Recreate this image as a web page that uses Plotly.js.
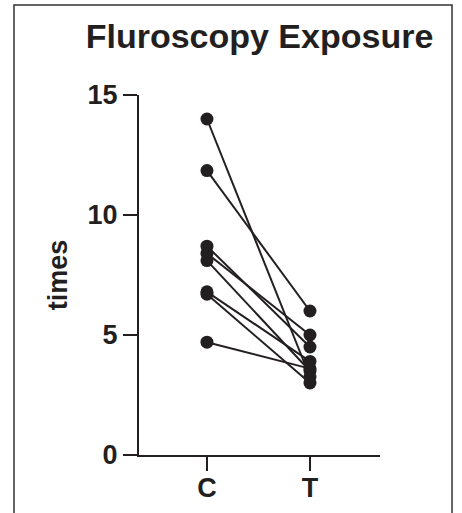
<!DOCTYPE html>
<html>
<head>
<meta charset="utf-8">
<script src="https://cdn.plot.ly/plotly-3.0.1.min.js"></script>
<style>
  html, body { margin: 0; padding: 0; background: #fff; }
  #chart { width: 462px; height: 513px; }
</style>
</head>
<body>
<div id="chart"></div>
<script>
const groups = ['C', 'T'];
const controlValues = [14.0, 11.85, 8.7, 8.4, 8.1, 6.8, 6.7, 4.7];
const treatedValues = [3.25, 6.0, 4.5, 5.0, 3.5, 3.9, 3.0, 3.6];
const yTickValues = [0, 5, 10, 15];
const yTickLabels = ['0', '5', '10', '15'];

const ink = '#231f20';
const font = 'Liberation Sans, Arial, Helvetica, sans-serif';

const traces = controlValues.map((c, i) => ({
  type: 'scatter',
  mode: 'lines+markers',
  x: groups,
  y: [c, treatedValues[i]],
  line: { color: ink, width: 2 },
  marker: { color: ink, size: 13 },
  cliponaxis: false,
  showlegend: false,
  hoverinfo: 'x+y'
}));

const layout = {
  width: 462,
  height: 513,
  margin: { l: 139, r: 82, t: 95, b: 58 },
  paper_bgcolor: '#ffffff',
  plot_bgcolor: '#ffffff',
  font: { family: font, color: ink },
  title: {
    text: 'Fluroscopy Exposure',
    font: { family: font, size: 34, color: ink, weight: 'bold' },
    x: 0.5, xref: 'paper', xanchor: 'center',
    y: 48, yref: 'container', yanchor: 'bottom'
  },
  xaxis: {
    type: 'category',
    range: [-0.66, 1.68],
    tickvals: groups,
    ticktext: groups,
    showline: true, linecolor: ink, linewidth: 2,
    ticks: 'outside', ticklen: 14, tickwidth: 2, tickcolor: ink,
    tickfont: { family: font, size: 27, color: ink, weight: 'bold' },
    ticklabelstandoff: -6,
    showgrid: false, zeroline: false,
    fixedrange: true
  },
  yaxis: {
    range: [0, 15],
    tickvals: yTickValues,
    ticktext: yTickLabels,
    showline: true, linecolor: ink, linewidth: 2,
    ticks: 'outside', ticklen: 14, tickwidth: 2, tickcolor: ink,
    tickfont: { family: font, size: 27, color: ink, weight: 'bold' },
    showgrid: false, zeroline: false,
    title: { text: 'times', font: { family: font, size: 27, color: ink, weight: 'bold' }, standoff: 12 },
    fixedrange: true
  },
  shapes: [{
    type: 'path',
    xref: 'paper', yref: 'paper',
    path: 'M -0.5187,-0.2 L -0.5187,1.25 L 1.2988,1.25 L 1.2988,-0.2',
    line: { color: '#333333', width: 1.5 }
  }]
};

Plotly.newPlot('chart', traces, layout, { displayModeBar: false, staticPlot: true });
</script>
</body>
</html>
